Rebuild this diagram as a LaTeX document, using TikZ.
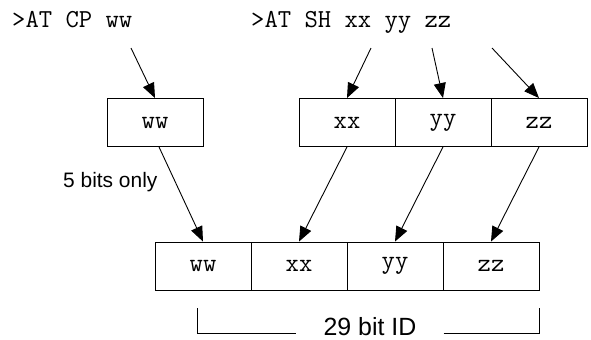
\documentclass[tikz,border=0pt]{standalone}
\usepackage{fontspec}
\setsansfont{Liberation Sans}
\usepackage{tikz}
\usetikzlibrary{arrows.meta}

\newcommand{\cmdfont}{\fontsize{26}{30}\ttfamily\addfontfeatures{LetterSpace=8}\selectfont}

\begin{document}
\begin{tikzpicture}[x=1bp,y=-1bp,
  field/.style={draw, line width=0.9pt, minimum width=96bp, minimum height=48bp, inner sep=0pt, font=\cmdfont},
  cmd/.style={anchor=base west, inner sep=0pt, font=\cmdfont},
  arr/.style={line width=0.9pt, -{Triangle[length=15bp,width=12bp]}}]
\useasboundingbox (0,0) rectangle (591,339);

% Commands
\node[cmd] (cp) at (12,27) {>AT CP ww};
\node[cmd] (sh) at (251,27) {>AT SH xx yy zz};
\coordinate (cpw) at (131,48);
\coordinate (shx) at (371,48);
\coordinate (shy) at (432,48);
\coordinate (shz) at (492,48);

% Fields of the two commands
\node[field] (cpww) at (155,122.5) {ww};
\node[field] (shxx) at (347,122.5) {xx};
\node[field] (shyy) at (443,122.5) {yy};
\node[field] (shzz) at (539,122.5) {zz};

% The 29 bit ID
\node[field] (idww) at (203,266) {ww};
\node[field] (idxx) at (299,266) {xx};
\node[field] (idyy) at (395,266) {yy};
\node[field] (idzz) at (491,266) {zz};

% Arrows
\draw[arr] (cpw) -- (cpww.north);
\draw[arr] (shx) -- (shxx.north);
\draw[arr] (shy) -- (shyy.north);
\draw[arr] (shz) -- (shzz.north);
\draw[arr] ([xshift=4bp]cpww.south) -- (idww.north);
\draw[arr] (shxx.south) -- (idxx.north);
\draw[arr] (shyy.south) -- (idyy.north);
\draw[arr] (shzz.south) -- (idzz.north);

% Labels
\node[anchor=base west, inner sep=0pt, font=\sffamily\fontsize{21}{24}\selectfont] (only) at (63,187) {5 bits only};
\node[anchor=base, inner xsep=27bp, inner ysep=0pt, font=\sffamily\fontsize{25}{28}\selectfont] (bitid) at (370,335) {29 bit ID};

% Bracket
\coordinate (bl) at (197,308);
\coordinate (br) at (539,308);
\draw[line width=0.9pt] (bl) |- ([yshift=-7bp]bitid.west);
\draw[line width=0.9pt] ([yshift=-7bp]bitid.east) -| (br);
\end{tikzpicture}
\end{document}
